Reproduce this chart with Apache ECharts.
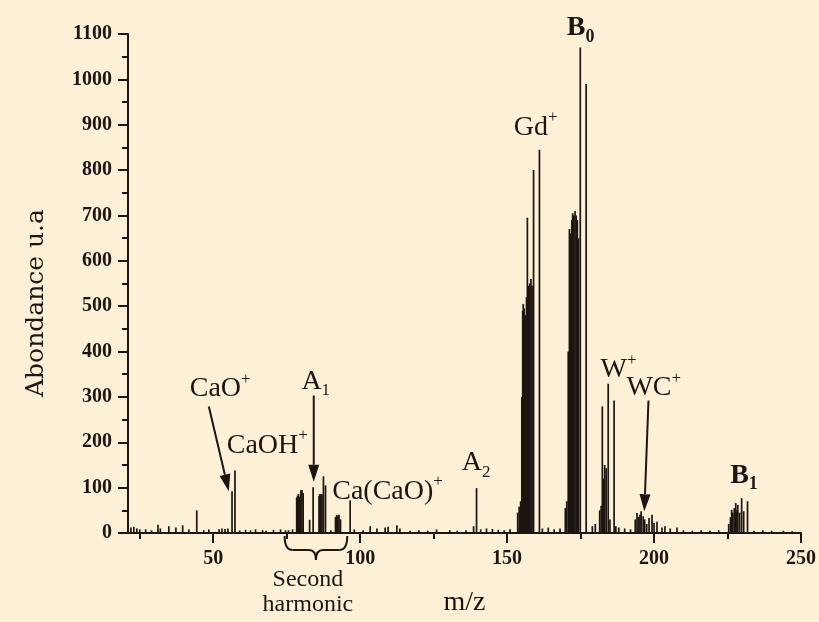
<!DOCTYPE html>
<html>
<head>
<meta charset="utf-8">
<script src="https://cdn.jsdelivr.net/npm/echarts@6/dist/echarts.min.js"></script>
<style>
  html, body { margin: 0; padding: 0; background: #fcf0d7; }
  #chart { width: 819px; height: 622px; }
</style>
</head>
<body>
<div id="chart"></div>
<script>
// ---- Spectrum data: [m/z, abundance (u.a)] ----
const baselinePeaks = [
  [22, 12], [23, 14], [24, 10], [25, 8], [27, 8], [29, 6], [31.2, 18], [32, 10],
  [34.9, 15], [37.3, 12], [39.6, 17], [41.7, 8], [46.8, 6], [48.5, 8],
  [52, 8], [53, 10], [54, 9], [55, 10], [59, 6], [61, 7], [62.7, 6], [64.4, 8],
  [66.8, 6], [68, 5], [70.5, 7], [72.9, 8], [74.6, 6], [75.6, 6], [77, 8],
  [90, 6], [98, 8], [101, 6], [103.4, 15], [105.7, 10], [108.5, 12], [109.5, 14],
  [112.5, 17], [113.5, 10], [117, 5], [120, 6], [123, 5], [126, 8], [130.5, 6],
  [133, 5], [136, 6], [138.6, 15], [141, 8], [143, 10], [145, 9], [147, 7],
  [149, 6], [151, 8], [162, 10], [164, 12], [166, 8], [168, 10], [179, 15],
  [180, 20], [188, 12], [190, 10], [192, 8], [205.5, 10], [207.8, 12], [210, 6],
  [213, 5], [216, 6], [219, 5], [222, 6], [234, 5], [237, 6], [240, 5],
  [244, 5], [247, 4]
];
const calciumPeaks = [[44.4, 50], [56.4, 92], [57.4, 138], [96.6, 72]];
const harmonicPeaks = [
  [78.4, 78], [78.7, 82], [79.0, 86], [79.4, 80], [79.8, 94], [80.2, 95], [80.6, 88],
  [82.8, 29], [84.0, 101], [86.0, 82], [86.3, 86], [86.6, 84], [87.0, 86],
  [87.5, 125], [88.2, 105], [91.6, 35], [92.0, 40], [92.4, 38], [92.8, 40], [93.3, 30]
];
const a2Peaks = [[139.6, 99]];
const gdPeaks = [
  [153.6, 45], [154.1, 58], [154.6, 70], [155.0, 300], [155.3, 490], [155.5, 505],
  [155.8, 495], [156.2, 480], [156.6, 520], [156.9, 695], [157.3, 545], [157.7, 550],
  [158.1, 560], [158.5, 545], [159.0, 800], [161.0, 845]
];
const b0Peaks = [
  [169.8, 55], [170.3, 70], [170.8, 400], [171.2, 670], [171.6, 660], [172.0, 690],
  [172.3, 705], [172.7, 700], [173.1, 710], [173.5, 700], [173.9, 690], [174.3, 650],
  [174.9, 1070], [176.9, 990]
];
const wPeaks = [
  [181.5, 50], [182.0, 60], [182.4, 279], [182.8, 120], [183.2, 150], [183.7, 143],
  [184.4, 329], [185.0, 30], [186.4, 292], [187.0, 15]
];
const wcPeaks = [
  [193.6, 30], [194.2, 44], [194.7, 35], [195.2, 40], [195.6, 48], [196.3, 37],
  [196.8, 30], [197.5, 20], [198.3, 33], [199.3, 40], [200.0, 22], [201.0, 25],
  [202.7, 12], [203.7, 15]
];
const b1Peaks = [
  [225.4, 20], [226.0, 35], [226.4, 51], [226.8, 45], [227.3, 55], [227.8, 66],
  [228.2, 50], [228.5, 62], [229.1, 45], [229.8, 77], [230.5, 48], [231.8, 70]
];

// Axis ticks
const xLabelValues = [50, 100, 150, 200, 250];
const xMinorValues = [25, 75, 125, 175, 225];

// Ion labels: [m/z, abundance] of the label's left-middle point
const ionLabels = [
  { text: '{ion|CaO}{sup|+}', at: [42.0, 318] },
  { text: '{ion|CaOH}{sup|+}', at: [54.6, 193] },
  { text: '{ion|A}{sub|1}', at: [80.0, 334] },
  { text: '{ion|Ca(CaO)}{sup|+}', at: [90.5, 92] },
  { text: '{ion|A}{sub|2}', at: [134.6, 154] },
  { text: '{ion|Gd}{sup|+}', at: [152.3, 894] },
  { text: '{bold|B}{bsub|0}', at: [170.3, 1113] },
  { text: '{ion|W}{sup|+}', at: [181.8, 360] },
  { text: '{ion|WC}{sup|+}', at: [190.6, 320] },
  { text: '{bold|B}{bsub|1}', at: [225.9, 127] }
];

// Arrows: [from m/z, from abundance, to m/z, to abundance]
const arrows = [
  [48.5, 279, 55.3, 92],
  [84.2, 303, 84.2, 113],
  [198.1, 292, 196.7, 48]
];

// m/z range grouped as second harmonic
const harmonicRange = [74.3, 95.6];

const ink = '#1d1511';
const serif = '"Liberation Serif", "Times New Roman", serif';

const allPeaks = [].concat(baselinePeaks, calciumPeaks, harmonicPeaks, a2Peaks,
  gdPeaks, b0Peaks, wPeaks, wcPeaks, b1Peaks);

const chart = echarts.init(document.getElementById('chart'), null, { renderer: 'canvas' });

const option = {
  backgroundColor: '#fcf0d7',
  animation: false,
  grid: { left: 128, right: 16, top: 34, bottom: 87, containLabel: false },
  xAxis: [
    {
      type: 'value', min: 21, max: 250, position: 'bottom',
      axisLine: { show: true, onZero: false, lineStyle: { color: ink, width: 2 } },
      axisTick: { show: true, customValues: xLabelValues, length: 10, lineStyle: { color: ink, width: 2 } },
      axisLabel: {
        customValues: xLabelValues, margin: 16, color: ink,
        fontFamily: serif, fontWeight: 'bold', fontSize: 20,
        formatter: function (v) { return String(v); }
      },
      splitLine: { show: false },
      name: 'm/z', nameLocation: 'middle', nameGap: 56,
      nameTextStyle: { fontFamily: serif, fontSize: 28, color: ink }
    },
    {
      type: 'value', min: 21, max: 250, position: 'bottom',
      axisLine: { show: false },
      axisTick: { show: true, customValues: xMinorValues, length: 6, lineStyle: { color: ink, width: 2 } },
      axisLabel: { show: false },
      splitLine: { show: false }
    }
  ],
  yAxis: {
    type: 'value', min: 0, max: 1100, interval: 100,
    axisLine: { show: true, lineStyle: { color: ink, width: 2 } },
    axisTick: { show: true, length: 10, lineStyle: { color: ink, width: 2 } },
    minorTick: { show: true, splitNumber: 2, length: 6, lineStyle: { color: ink, width: 2 } },
    axisLabel: {
      margin: 16, color: ink, fontFamily: serif, fontWeight: 'bold', fontSize: 20,
      formatter: function (v) { return String(v); }
    },
    splitLine: { show: false }
  },
  graphic: [
    {
      type: 'text', x: 36, y: 303, rotation: Math.PI / 2,
      style: {
        text: 'Abondance u.a', fill: ink,
        font: '25px "DejaVu Serif", serif',
        textAlign: 'center', textVerticalAlign: 'middle'
      }
    }
  ],
  series: [
    {
      name: 'spectrum', type: 'custom', xAxisIndex: 0,
      data: allPeaks,
      renderItem: function (params, api) {
        const base = api.coord([api.value(0), 0]);
        const top = api.coord([api.value(0), api.value(1)]);
        return {
          type: 'line',
          shape: { x1: base[0], y1: base[1], x2: top[0], y2: top[1] },
          style: { stroke: ink, lineWidth: 1.7 }
        };
      }
    },
    {
      name: 'arrows', type: 'custom', xAxisIndex: 0, clip: false,
      data: arrows,
      renderItem: function (params, api) {
        const p1 = api.coord([api.value(0), api.value(1)]);
        const p2 = api.coord([api.value(2), api.value(3)]);
        const dx = p2[0] - p1[0], dy = p2[1] - p1[1];
        const len = Math.sqrt(dx * dx + dy * dy);
        const ux = dx / len, uy = dy / len;
        const headL = 17, headW = 5.5;
        const bx = p2[0] - ux * headL, by = p2[1] - uy * headL;
        return {
          type: 'group',
          children: [
            { type: 'line', shape: { x1: p1[0], y1: p1[1], x2: bx, y2: by },
              style: { stroke: ink, lineWidth: 2 } },
            { type: 'polygon',
              shape: { points: [[p2[0], p2[1]], [bx - uy * headW, by + ux * headW], [bx + uy * headW, by - ux * headW]] },
              style: { fill: ink } }
          ]
        };
      }
    },
    {
      name: 'harmonic', type: 'custom', xAxisIndex: 0, clip: false,
      data: [harmonicRange],
      renderItem: function (params, api) {
        const a = api.coord([api.value(0), 0]);
        const b = api.coord([api.value(1), 0]);
        const y0 = a[1];
        const m = (a[0] + b[0]) / 2;
        const yh = y0 + 17, yt = y0 + 27, ys = y0 + 3;
        const st = { stroke: ink, lineWidth: 2, fill: null };
        return {
          type: 'group',
          children: [
            { type: 'bezierCurve', shape: { x1: a[0], y1: ys, cpx1: a[0], cpy1: yh, x2: a[0] + 8, y2: yh }, style: st },
            { type: 'line', shape: { x1: a[0] + 8, y1: yh, x2: m - 7, y2: yh }, style: st },
            { type: 'bezierCurve', shape: { x1: m - 7, y1: yh, cpx1: m, cpy1: yh, x2: m, y2: yt }, style: st },
            { type: 'bezierCurve', shape: { x1: m, y1: yt, cpx1: m, cpy1: yh, x2: m + 7, y2: yh }, style: st },
            { type: 'line', shape: { x1: m + 7, y1: yh, x2: b[0] - 8, y2: yh }, style: st },
            { type: 'bezierCurve', shape: { x1: b[0] - 8, y1: yh, cpx1: b[0], cpy1: yh, x2: b[0], y2: ys }, style: st },
            { type: 'text', x: m - 8, y: y0 + 47,
              style: { text: 'Second', fill: ink, font: '24px ' + serif, textAlign: 'center', textVerticalAlign: 'middle' } },
            { type: 'text', x: m - 8, y: y0 + 72,
              style: { text: 'harmonic', fill: ink, font: '24px ' + serif, textAlign: 'center', textVerticalAlign: 'middle' } }
          ]
        };
      }
    },
    {
      name: 'ions', type: 'scatter', xAxisIndex: 0, symbolSize: 0, silent: true, clip: false,
      itemStyle: { opacity: 1 },
      data: ionLabels.map(function (d) {
        return { value: d.at, label: { formatter: d.text } };
      }),
      label: {
        show: true, position: 'right', distance: 0, color: ink,
        rich: {
          ion: { fontFamily: serif, fontSize: 28, color: ink, lineHeight: 36 },
          bold: { fontFamily: serif, fontSize: 28, fontWeight: 'bold', color: ink, lineHeight: 36 },
          sup: { fontFamily: serif, fontSize: 17, color: ink, verticalAlign: 'top', lineHeight: 20 },
          sub: { fontFamily: serif, fontSize: 17, color: ink, verticalAlign: 'bottom', lineHeight: 18 },
          bsub: { fontFamily: serif, fontSize: 18, fontWeight: 'bold', color: ink, verticalAlign: 'bottom', lineHeight: 18 }
        }
      }
    }
  ]
};

chart.setOption(option);
</script>
</body>
</html>
